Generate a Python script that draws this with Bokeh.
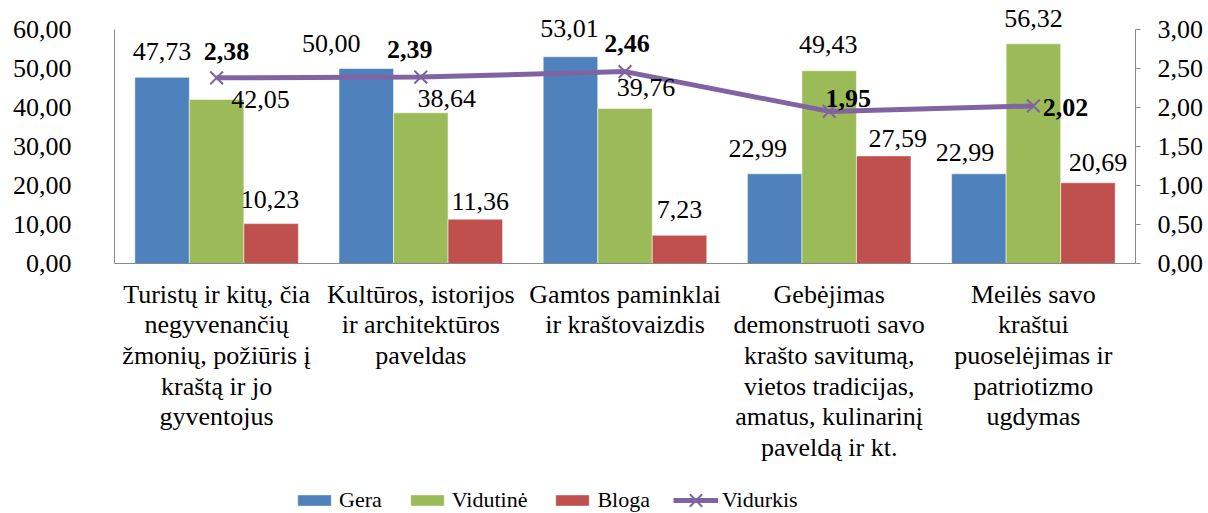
from bokeh.plotting import figure
from bokeh.models import (ColumnDataSource, FactorRange, Range1d, LinearAxis,
                          FixedTicker, Legend, LegendItem)
from bokeh.layouts import column
from bokeh.transform import dodge
from bokeh.core.properties import value
from bokeh.embed import file_html
from bokeh.resources import INLINE

# ---------------- data ----------------
categories = [
    "Turistų ir kitų, čia\nnegyvenančių\nžmonių, požiūris į\nkraštą ir jo\ngyventojus",
    "Kultūros, istorijos\nir architektūros\npaveldas",
    "Gamtos paminklai\nir kraštovaizdis",
    "Gebėjimas\ndemonstruoti savo\nkrašto savitumą,\nvietos tradicijas,\namatus, kulinarinį\npaveldą ir kt.",
    "Meilės savo\nkraštui\npuoselėjimas ir\npatriotizmo\nugdymas",
]
gera = [47.73, 50.00, 53.01, 22.99, 22.99]
vidutine = [42.05, 38.64, 39.76, 49.43, 56.32]
bloga = [10.23, 11.36, 7.23, 27.59, 20.69]
vidurkis = [2.38, 2.39, 2.46, 1.95, 2.02]

series_names = ["Gera", "Vidutinė", "Bloga", "Vidurkis"]

left_ticks = [0, 10, 20, 30, 40, 50, 60]
left_tick_labels = ["0,00", "10,00", "20,00", "30,00", "40,00", "50,00", "60,00"]
right_ticks = [0, 0.5, 1.0, 1.5, 2.0, 2.5, 3.0]
right_tick_labels = ["0,00", "0,50", "1,00", "1,50", "2,00", "2,50", "3,00"]

# ---------------- style ----------------
FONT_NAME = "'Liberation Serif', serif"
FONT = value(FONT_NAME)
C_BLUE = "#4F81BD"
C_GREEN = "#9BBB59"
C_RED = "#C0504D"
C_PURPLE = "#8064A2"
AXIS_C = "#898989"
BAR_W = 0.267
W = 1208
H_MAIN = 485
H_LEG = 28
# frame spans from canvas top (y=0) to the x axis (y=263); 60 sits at y=29
TOP_PAD = 263.0 / 234.0

# label offsets in screen pixels (dx, dy), per series
off_gera = [(0, -26), (-35, -25), (-1, -28), (-17, -25), (-14, -21)]
off_vid = [(44, 0), (26, -14), (21, -21), (-1, -26), (0, -25)]
off_blo = [(-1, -24), (5, -18), (0, -26), (14, -17), (10, -20)]
off_avg = [(10, -26), (-11, -28), (2, -28), (19, -13), (32, 2)]


def fmt(v):
    return f"{v:.2f}".replace(".", ",")


src = ColumnDataSource(dict(
    cat=categories, gera=gera, vid=vidutine, blo=bloga, avg=vidurkis,
    gera_t=[fmt(v) for v in gera], vid_t=[fmt(v) for v in vidutine],
    blo_t=[fmt(v) for v in bloga], avg_t=[fmt(v) for v in vidurkis],
    gdx=[o[0] for o in off_gera], gdy=[o[1] for o in off_gera],
    vdx=[o[0] for o in off_vid], vdy=[o[1] for o in off_vid],
    bdx=[o[0] for o in off_blo], bdy=[o[1] for o in off_blo],
    adx=[o[0] for o in off_avg], ady=[o[1] for o in off_avg],
))

xr = FactorRange(*categories, range_padding=0)
p = figure(x_range=xr,
           y_range=Range1d(0, left_ticks[-1] * TOP_PAD), width=W, height=H_MAIN,
           output_backend="svg", toolbar_location=None,
           min_border_left=114, min_border_right=73, min_border_top=0,
           min_border_bottom=H_MAIN - 263, outline_line_color=None,
           background_fill_color="white", border_fill_color="white")
p.extra_y_ranges = {"right": Range1d(0, right_ticks[-1] * TOP_PAD)}
p.xgrid.visible = False
p.ygrid.visible = False

# left axis
ya = p.yaxis[0]
ya.ticker = FixedTicker(ticks=left_ticks)
ya.bounds = (left_ticks[0], left_ticks[-1])
ya.major_label_overrides = dict(zip(left_ticks, left_tick_labels))
ya.major_label_text_font = FONT_NAME
ya.major_label_text_font_size = "26px"
ya.major_label_text_color = "black"
ya.major_tick_out = 0
ya.major_tick_in = 0
ya.minor_tick_out = 0
ya.minor_tick_in = 0
ya.major_label_standoff = 43
ya.axis_line_color = AXIS_C

# right axis
ra = LinearAxis(y_range_name="right", ticker=FixedTicker(ticks=right_ticks),
                bounds=(right_ticks[0], right_ticks[-1]),
                major_label_overrides=dict(zip(right_ticks, right_tick_labels)),
                major_label_text_font=FONT_NAME, major_label_text_font_size="26px",
                major_label_text_color="black", major_tick_out=5, major_tick_in=0,
                minor_tick_out=0, minor_tick_in=0, major_label_standoff=17,
                axis_line_color=AXIS_C, major_tick_line_color=AXIS_C)
p.add_layout(ra, "right")

# bottom axis
xa = p.xaxis[0]
xa.major_label_text_font = FONT_NAME
xa.major_label_text_font_size = "26px"
xa.major_label_text_color = "black"
xa.major_label_text_line_height = 1.06
xa.major_tick_out = 0
xa.major_tick_in = 0
xa.major_label_standoff = 16
xa.axis_line_color = AXIS_C
xa.major_label_orientation = "horizontal"

# bars
bar_style = dict(line_color="white", line_alpha=0.5, line_width=1)
line_style = dict(line_color=C_PURPLE, line_width=5)
mark_style = dict(marker="x", size=18, line_color=C_PURPLE, line_width=2)


def add_series(fig):
    rg = fig.vbar(x=dodge("cat", -BAR_W, range=xr), top="gera", width=BAR_W,
                  source=src, fill_color=C_BLUE, **bar_style)
    rv = fig.vbar(x=dodge("cat", 0, range=xr), top="vid", width=BAR_W,
                  source=src, fill_color=C_GREEN, **bar_style)
    rb = fig.vbar(x=dodge("cat", BAR_W, range=xr), top="blo", width=BAR_W,
                  source=src, fill_color=C_RED, **bar_style)
    rl = fig.line(x="cat", y="avg", source=src, y_range_name="right", **line_style)
    rs = fig.scatter(x="cat", y="avg", source=src, y_range_name="right", **mark_style)
    return rg, rv, rb, rl, rs


add_series(p)

# data labels
common = dict(source=src, text_font=FONT, text_font_size="26px", text_color="black",
              text_align="center", text_baseline="middle")
p.text(x=dodge("cat", -BAR_W, range=xr), y="gera", text="gera_t",
       x_offset="gdx", y_offset="gdy", **common)
p.text(x=dodge("cat", 0, range=xr), y="vid", text="vid_t",
       x_offset="vdx", y_offset="vdy", **common)
p.text(x=dodge("cat", BAR_W, range=xr), y="blo", text="blo_t",
       x_offset="bdx", y_offset="bdy", **common)
p.text(x="cat", y="avg", text="avg_t", y_range_name="right",
       x_offset="adx", y_offset="ady", text_font_style="bold", **common)

# ---------------- legend strip (series drawn out of view, legend only) ----------------
lf = figure(width=W, height=H_LEG, x_range=xr, y_range=Range1d(1000, 1001),
            output_backend="svg", toolbar_location=None, min_border=0,
            outline_line_color=None, background_fill_color="white",
            border_fill_color="white")
lf.extra_y_ranges = {"right": Range1d(1000, 1001)}
lf.axis.visible = False
lf.grid.visible = False
lg, lv, lb, ll, ls = add_series(lf)

leg_common = dict(orientation="horizontal", label_standoff=4, spacing=24,
                  padding=0, margin=0, border_line_alpha=0, background_fill_alpha=0,
                  label_text_font=FONT_NAME, label_text_font_size="22px",
                  label_text_color="black")
legend_bars = Legend(items=[LegendItem(label=series_names[0], renderers=[lg]),
                            LegendItem(label=series_names[1], renderers=[lv]),
                            LegendItem(label=series_names[2], renderers=[lb])],
                     location=(179, 0), glyph_width=42, glyph_height=14, **leg_common)
legend_line = Legend(items=[LegendItem(label=series_names[3], renderers=[ll, ls])],
                     location=(559, -9), glyph_width=45, glyph_height=44, **leg_common)
lf.add_layout(legend_bars)
lf.add_layout(legend_line)

open("out.html", "w").write(file_html(column(p, lf, spacing=0), INLINE))
